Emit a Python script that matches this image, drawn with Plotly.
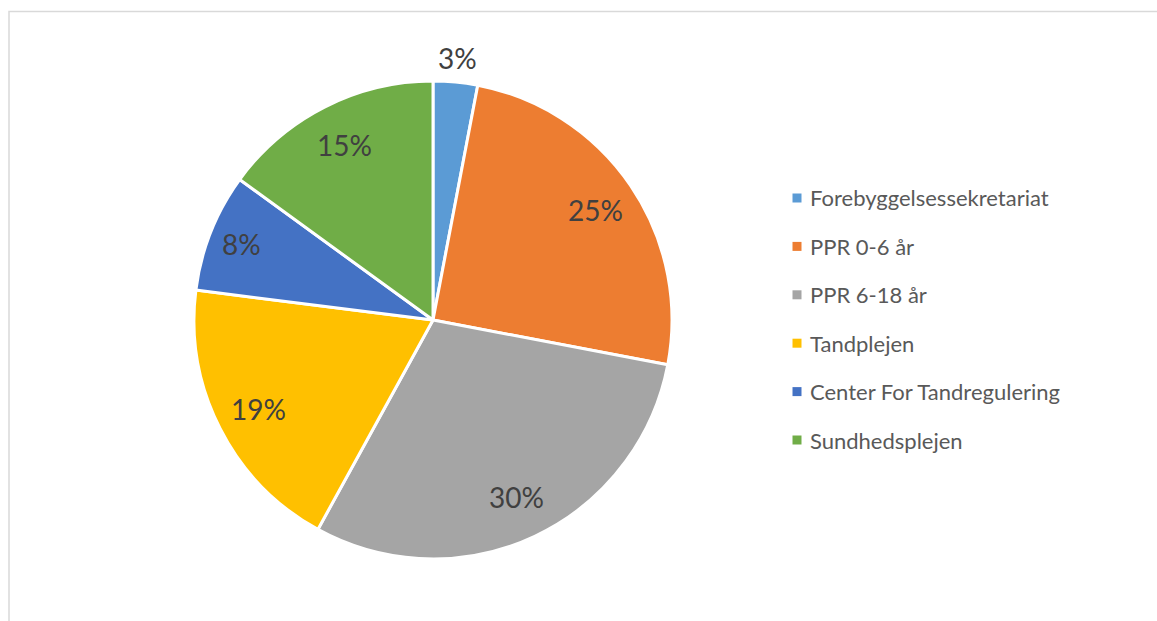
import math
import plotly.graph_objects as go

categories = ["Forebyggelsessekretariat", "PPR 0-6 år", "PPR 6-18 år", "Tandplejen",
              "Center For Tandregulering", "Sundhedsplejen"]
values = [3, 25, 30, 19, 8, 15]
colors = ["#5B9BD5", "#ED7D31", "#A5A5A5", "#FFC000", "#4472C4", "#70AD47"]

W, H = 1157, 621
CX, CY, R = 433, 320, 239
FONT = "Lato, Calibri, Carlito, 'Open Sans', sans-serif"

def px(x):
    return x / W

def py(y):
    return 1 - y / H

fig = go.Figure(go.Pie(
    labels=categories, values=values, sort=False, direction="clockwise", rotation=0,
    marker=dict(colors=colors, line=dict(color="white", width=3)),
    textinfo="none", showlegend=False,
    domain=dict(x=[px(CX - R), px(CX + R)], y=[py(CY + R), py(CY - R)]),
))

annotations = []
shapes = []
total = sum(values)
cum = 0
for v in values:
    mid = (cum + v / 2) / total * 2 * math.pi
    cum += v
    share = v / total
    frac = 1.1 if share < 0.05 else (0.86 if share < 0.1 else 0.82)
    r = R * frac
    x = CX + r * math.sin(mid)
    y = CY - r * math.cos(mid)
    annotations.append(dict(x=px(x), y=py(y), xref="paper", yref="paper",
                            text=f"{round(share * 100)}%", showarrow=False,
                            xanchor="center", yanchor="middle",
                            font=dict(family=FONT, size=28, color="#404040")))

# custom legend
for i, (c, col) in enumerate(zip(categories, colors)):
    yc = 198 + i * 48.4
    shapes.append(dict(type="rect", xref="paper", yref="paper",
                       x0=px(792.5), x1=px(801.5), y0=py(yc + 4.5), y1=py(yc - 4.5),
                       fillcolor=col, line=dict(width=0)))
    annotations.append(dict(x=px(808), y=py(yc), xref="paper", yref="paper",
                            text=c, showarrow=False, xanchor="left", yanchor="middle",
                            font=dict(family=FONT, size=22, color="#595959")))

# chart area border
shapes.append(dict(type="rect", xref="paper", yref="paper",
                   x0=px(9), x1=1.05, y0=-0.05, y1=py(11.5),
                   line=dict(color="#D9D9D9", width=1.5), fillcolor="rgba(0,0,0,0)", layer="below"))

fig.update_layout(
    width=W, height=H, margin=dict(l=0, r=0, t=0, b=0),
    paper_bgcolor="white", plot_bgcolor="white",
    annotations=annotations, shapes=shapes,
)
fig.write_html("out.html")
